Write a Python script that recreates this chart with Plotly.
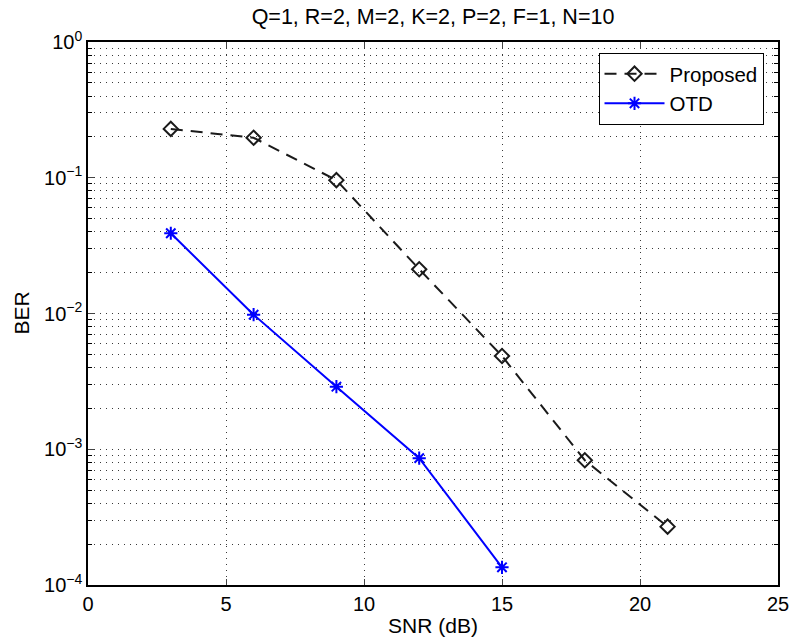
import plotly.graph_objects as go

snr_proposed = [3, 6, 9, 12, 15, 18, 21]
ber_proposed = [0.229, 0.197, 0.096, 0.0212, 0.00486, 0.00083, 0.000269]
snr_otd = [3, 6, 9, 12, 15]
ber_otd = [0.039, 0.0098, 0.00289, 0.00086, 0.000135]

x_ticks = [0, 5, 10, 15, 20, 25]
y_ticks = [1e-4, 1e-3, 1e-2, 1e-1, 1]
y_ticktext = ["10<sup>−4</sup>", "10<sup>−3</sup>", "10<sup>−2</sup>", "10<sup>−1</sup>", "10<sup>0</sup>"]
title_text = "Q=1, R=2, M=2, K=2, P=2, F=1, N=10"
x_title = "SNR (dB)"
y_title = "BER"

minor_y = [m * 10.0 ** e for e in range(-4, 0) for m in range(2, 10)]

grid_color = "#3a3a3a"
grid_dash = "1px,5px"

fig = go.Figure()
fig.add_trace(go.Scatter(
    x=snr_proposed, y=ber_proposed, name="Proposed", mode="lines+markers",
    line=dict(color="#1a1a1a", dash="12px,8px", width=2),
    marker=dict(symbol="diamond-open", size=11, color="#1a1a1a", line=dict(width=2)),
))
fig.add_trace(go.Scatter(
    x=snr_otd, y=ber_otd, name="OTD", mode="lines+markers",
    line=dict(color="#0000ff", width=2),
    marker=dict(symbol="asterisk-open", size=11, color="#0000ff", line=dict(width=2, color="#0000ff")),
))

font = "Liberation Sans, Arial, sans-serif"
fig.update_layout(
    width=791, height=642,
    paper_bgcolor="white", plot_bgcolor="white",
    margin=dict(l=88, r=13, t=42, b=57),
    font=dict(family=font, size=20, color="black"),
    title=dict(text=title_text, x=0.5, xanchor="center", xref="paper",
               y=1 - 16 / 642, yanchor="middle", font=dict(size=21.5)),
    legend=dict(x=0.979, y=0.98, xanchor="right", yanchor="top",
                bordercolor="black", borderwidth=1, bgcolor="white",
                font=dict(size=20.5), tracegroupgap=0, itemwidth=60),
    showlegend=True,
    annotations=[dict(text=y_title, textangle=-90, xref="paper", yref="paper",
                      x=-67 / 690, y=0.5, xanchor="center", yanchor="middle",
                      showarrow=False, font=dict(size=21))],
)
fig.update_xaxes(
    range=[0, 25], tickvals=x_ticks, ticks="inside", ticklen=6,
    showline=True, linecolor="black", linewidth=1.5, mirror="ticks",
    showgrid=True, gridcolor=grid_color, griddash=grid_dash, gridwidth=1,
    zeroline=False, automargin=False,
    title=dict(text=x_title, standoff=5, font=dict(size=21)),
)
fig.update_yaxes(
    type="log", range=[-4, 0], tickvals=y_ticks, ticktext=y_ticktext,
    ticks="inside", ticklen=6,
    showline=True, linecolor="black", linewidth=1.5, mirror="ticks",
    showgrid=True, gridcolor=grid_color, griddash=grid_dash, gridwidth=1,
    minor=dict(tickvals=minor_y, ticks="inside", ticklen=4, tickcolor="black",
               showgrid=True, gridcolor=grid_color, griddash=grid_dash, gridwidth=1),
    zeroline=False, automargin=False,
)

fig.write_html("out.html", config={"displayModeBar": False},
               post_script="document.body.style.margin='0';")
